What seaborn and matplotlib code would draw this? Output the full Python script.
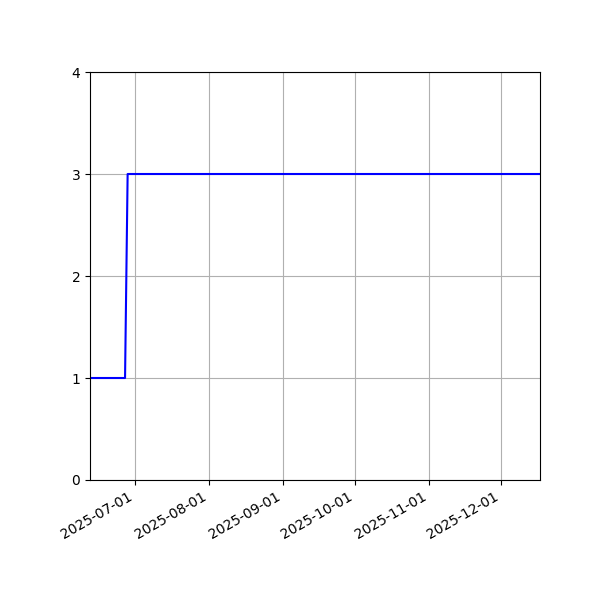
import pandas as pd
import matplotlib
matplotlib.use("Agg")
import matplotlib.pyplot as plt
import matplotlib.dates as mdates
import seaborn as sns

# step series (value changes once, end of June)
dates = ['2025-06-12 04:00', '2025-06-26 20:00', '2025-06-27 22:00', '2025-12-17 12:00']
values = [1, 1, 3, 3]

df = pd.DataFrame({'date': pd.to_datetime(dates), 'value': values})

fig, ax = plt.subplots(figsize=(6, 6), dpi=100)
sns.lineplot(x='date', y='value', data=df, color='blue', ax=ax)

ax.set_xlim(df['date'].min(), df['date'].max())
ax.set_ylim(0, 4)
ax.set_yticks([0, 1, 2, 3, 4])
ax.xaxis.set_major_locator(mdates.MonthLocator())
ax.xaxis.set_major_formatter(mdates.DateFormatter('%Y-%m-%d'))
ax.set_xlabel('')
ax.set_ylabel('')
ax.grid(True)

fig.autofmt_xdate()
fig.subplots_adjust(left=0.15, right=0.9, top=0.88, bottom=0.2)

plt.savefig('out.png')
